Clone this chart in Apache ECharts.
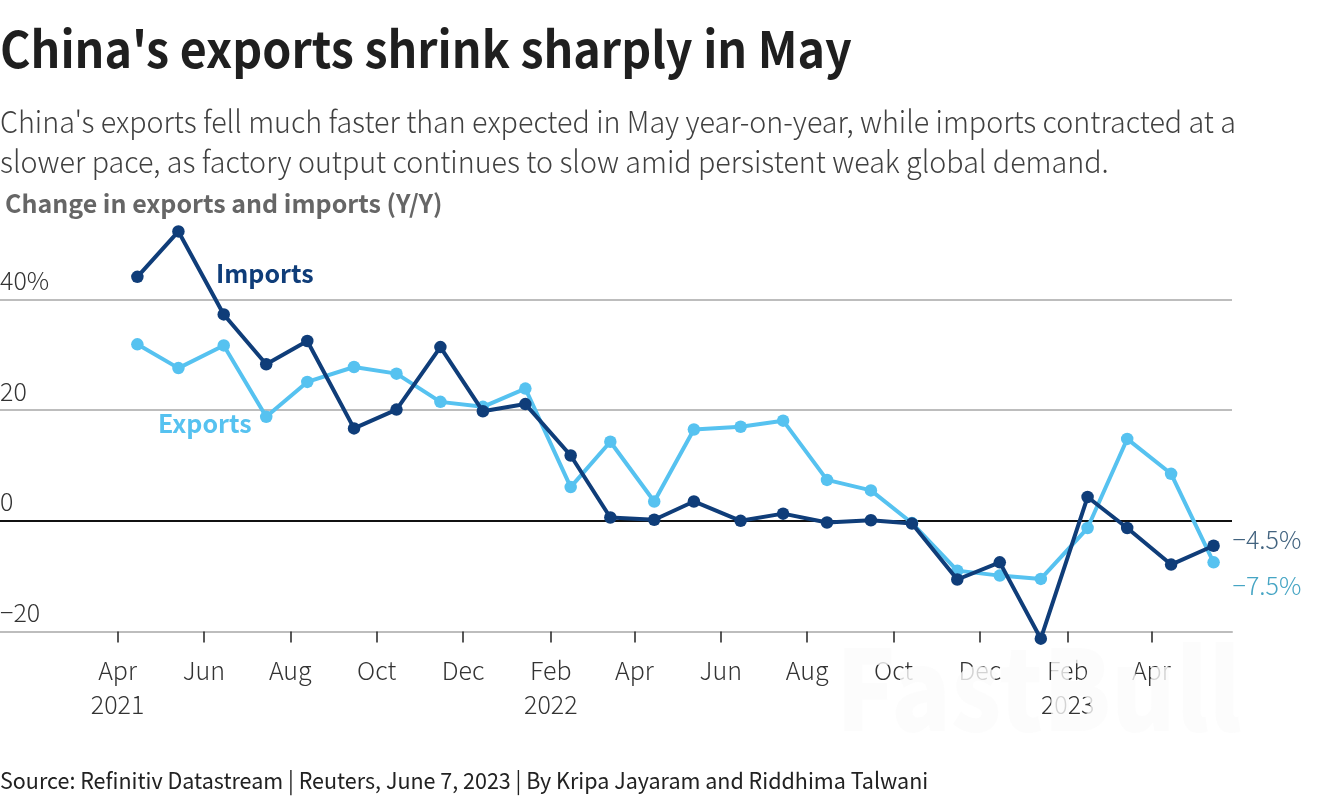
<!DOCTYPE html>
<html>
<head>
<meta charset="utf-8">
<style>html,body{margin:0;padding:0;background:#fff}#c{width:1320px;height:800px}</style>
<script src="https://cdn.jsdelivr.net/npm/echarts@6/dist/echarts.min.js"></script>
</head>
<body>
<div id="c"></div>
<script>
const dates = ['2021-04-15','2021-05-14','2021-06-15','2021-07-15','2021-08-13','2021-09-15','2021-10-15','2021-11-15','2021-12-15','2022-01-14','2022-02-15','2022-03-15','2022-04-15','2022-05-13','2022-06-15','2022-07-15','2022-08-15','2022-09-15','2022-10-14','2022-11-15','2022-12-15','2023-01-13','2023-02-15','2023-03-15','2023-04-15','2023-05-15'];
const imports = [44.1,52.3,37.3,28.3,32.5,16.7,20.1,31.4,19.8,21.1,11.8,0.6,0.2,3.5,0,1.3,-0.3,0.1,-0.5,-10.6,-7.5,-21.3,4.3,-1.3,-7.9,-4.5];
const exportsYoY = [31.9,27.6,31.7,18.8,25.1,27.8,26.6,21.5,20.6,23.9,6.1,14.3,3.5,16.5,17.0,18.1,7.4,5.5,-0.4,-9.0,-9.9,-10.5,-1.3,14.8,8.5,-7.5];
const tickDates = ['2021-04-01','2021-06-01','2021-08-01','2021-10-01','2021-12-01','2022-02-01','2022-04-01','2022-06-01','2022-08-01','2022-10-01','2022-12-01','2023-02-01','2023-04-01'];
const tickLabels = ['Apr\n2021','Jun','Aug','Oct','Dec','Feb\n2022','Apr','Jun','Aug','Oct','Dec','Feb\n2023','Apr'];
const yTicks = [-20,0,20,40];
const yTickLabels = ['−20','0','20','40%'];
const titleText = "China's exports shrink sharply in May";
const subtitleLines = ["China's exports fell much faster than expected in May year-on-year, while imports contracted at a","slower pace, as factory output continues to slow amid persistent weak global demand."];
const axisTitle = 'Change in exports and imports (Y/Y)';
const sourceText = 'Source: Refinitiv Datastream | Reuters, June 7, 2023 | By Kripa Jayaram and Riddhima Talwani';
const lastImports = '−4.5%';
const lastExports = '−7.5%';
const watermark = 'FastBull';

const FONT = '"Noto Sans CJK SC","Noto Sans",sans-serif';
const ts = d => Date.parse(d + 'T00:00:00Z');
const tickTs = tickDates.map(ts);
const pairs = a => a.map((v, i) => [ts(dates[i]), v]);
const chart = echarts.init(document.getElementById('c'), null, {renderer: 'canvas'});
const txt = (x, y, text, font, fill, scaleX, extra) => ({type: 'text', x, y, scaleX: scaleX || 1, silent: true, z: 20, style: Object.assign({text, font, fill, textVerticalAlign: 'middle'}, extra || {})});

chart.setOption({
  animation: false,
  backgroundColor: '#fff',
  grid: {left: 0, top: 299.5, width: 1232, height: 332, containLabel: false, outerBoundsMode: 'none'},
  xAxis: {
    type: 'value',
    min: ts('2021-01-08'),
    max: ts('2023-05-28'),
    axisLine: {show: true, onZero: false, lineStyle: {color: '#bdbdbd', width: 2}},
    axisTick: {show: true, customValues: tickTs, length: 11, lineStyle: {color: '#222', width: 1.5}},
    splitLine: {show: false},
    axisLabel: {
      customValues: tickTs,
      color: '#333', fontFamily: FONT, fontWeight: 300, fontSize: 25, lineHeight: 34, margin: 22,
      hideOverlap: false, showMinLabel: true, showMaxLabel: true,
      formatter: v => tickLabels[tickTs.indexOf(+v)] || ''
    }
  },
  yAxis: {
    type: 'value', min: -20, max: 40, interval: 20,
    axisLine: {show: false}, axisTick: {show: false},
    splitLine: {show: true, lineStyle: {color: '#bdbdbd', width: 2}},
    axisLabel: {
      inside: true, margin: 0, align: 'left', verticalAlign: 'bottom',
      color: '#333', fontFamily: FONT, fontWeight: 300, fontSize: 25, lineHeight: 30, padding: [0,0,4,0],
      formatter: v => yTickLabels[yTicks.indexOf(v)]
    }
  },
  series: [
    {
      name: 'Exports', type: 'line', data: pairs(exportsYoY), clip: false, z: 3,
      symbol: 'circle', symbolSize: 12.5,
      lineStyle: {color: '#56c2f0', width: 4}, itemStyle: {color: '#56c2f0'},
      endLabel: {show: true, formatter: () => lastExports, color: '#46a5c4', fontFamily: FONT, fontWeight: 300, fontSize: 25, distance: 5, offset: [14, 23]}
    },
    {
      name: 'Imports', type: 'line', data: pairs(imports), clip: false, z: 4,
      symbol: 'circle', symbolSize: 12.5,
      lineStyle: {color: '#0f3d79', width: 4}, itemStyle: {color: '#0f3d79'},
      endLabel: {show: true, formatter: () => lastImports, color: '#42637f', fontFamily: FONT, fontWeight: 300, fontSize: 25, distance: 5, offset: [14, -6]},
      markLine: {silent: true, symbol: 'none', z: 3, animation: false, label: {show: false}, lineStyle: {color: '#111', width: 2, type: 'solid'}, data: [{yAxis: 0}]}
    }
  ],
  graphic: [
    txt(0, 49, titleText, '700 50px ' + FONT, '#1f1f1f', 0.932),
    txt(0, 121, subtitleLines[0], '300 30.5px ' + FONT, '#404040', 0.94),
    txt(0, 161, subtitleLines[1], '300 30.5px ' + FONT, '#404040', 0.94),
    txt(5, 203, axisTitle, '700 25px ' + FONT, '#666666'),
    txt(216, 273, 'Imports', '700 25px ' + FONT, '#0f3d79'),
    txt(158, 423, 'Exports', '700 25px ' + FONT, '#56c2f0'),
    txt(0, 780, sourceText, '400 22.5px ' + FONT, '#222222', 0.956),
    txt(836, 688, watermark, '900 112px ' + FONT, 'rgba(251,251,251,0.8)', 0.88, {shadowColor: 'rgba(0,0,0,0.1)', shadowBlur: 7})
  ]
});
</script>
</body>
</html>
